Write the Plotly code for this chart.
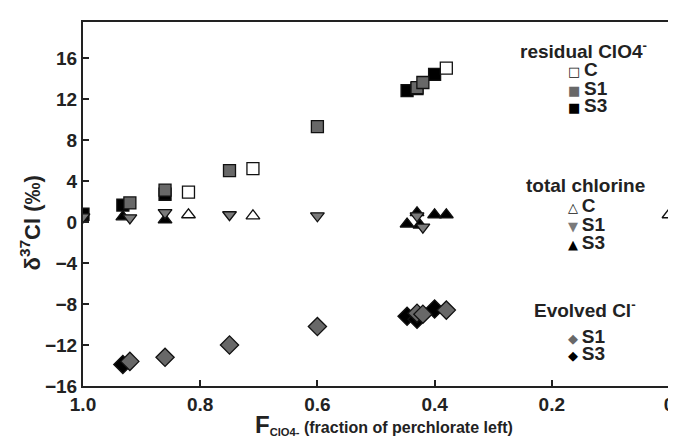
import plotly.graph_objects as go

# ---- data (F = fraction of perchlorate left, d37Cl in permil) ----
res_C_F = [0.82, 0.71, 0.38]
res_C_d = [2.9, 5.2, 15.0]
res_S1_F = [0.92, 0.86, 0.75, 0.60, 0.43, 0.42]
res_S1_d = [1.85, 3.1, 5.0, 9.3, 13.1, 13.6]
res_S3_F = [1.0, 0.932, 0.86, 0.447, 0.43, 0.40]
res_S3_d = [0.75, 1.65, 2.7, 12.8, 13.0, 14.4]

tot_C_F = [0.82, 0.71, 0.0]
tot_C_d = [0.7, 0.6, 0.7]
tot_S1_F = [1.0, 0.92, 0.86, 0.75, 0.60, 0.43, 0.42]
tot_S1_d = [0.5, 0.4, 0.9, 0.7, 0.6, 0.6, -0.5]
tot_S3_F = [0.932, 0.86, 0.447, 0.43, 0.425, 0.40, 0.38]
tot_S3_d = [0.5, 0.2, -0.2, 0.9, -0.3, 0.7, 0.7]

evo_S1_F = [0.92, 0.86, 0.75, 0.60, 0.43, 0.42, 0.38]
evo_S1_d = [-13.6, -13.2, -12.0, -10.2, -8.9, -9.0, -8.6]
evo_S3_F = [0.932, 0.447, 0.43, 0.40]
evo_S3_d = [-13.9, -9.2, -9.5, -8.5]

x_ticks = [1.0, 0.8, 0.6, 0.4, 0.2, 0.0]
x_tick_text = ["1.0", "0.8", "0.6", "0.4", "0.2", "0"]
y_ticks = [-16, -12, -8, -4, 0, 4, 8, 12, 16]

GRAY = "#686868"
TRI_GRAY = "#7a7a7a"
LINE = dict(color="#111", width=1.3)
FONT = "Liberation Sans, Arial, sans-serif"
INK = "#222"

fig = go.Figure()

def add(xs, ys, symbol, color, size):
    fig.add_trace(go.Scatter(
        x=xs, y=ys, mode="markers", showlegend=False, hoverinfo="skip",
        marker=dict(symbol=symbol, color=color, size=size, line=LINE)))

# residual ClO4-
add(res_S3_F, res_S3_d, "square", "#000000", 12)
add(res_S1_F, res_S1_d, "square", GRAY, 12)
add(res_C_F, res_C_d, "square", "#ffffff", 12)
# total chlorine
add(tot_C_F, tot_C_d, "triangle-up", "#ffffff", 12)
add(tot_S3_F, tot_S3_d, "triangle-up", "#000000", 12)
add(tot_S1_F, tot_S1_d, "triangle-down", TRI_GRAY, 12)
# evolved Cl-
add(evo_S3_F, evo_S3_d, "diamond", "#000000", 14)
add(evo_S1_F, evo_S1_d, "diamond", GRAY, 14)

axis_common = dict(
    showline=True, linecolor=INK, linewidth=2, mirror=True,
    ticks="inside", ticklen=6, tickwidth=1.5, tickcolor=INK,
    showgrid=False, zeroline=False,
    tickfont=dict(family=FONT, size=19, color=INK, weight="bold"),
)

fig.update_xaxes(range=[1.0, 0.0], tickvals=x_ticks, ticktext=x_tick_text, **axis_common)
fig.update_yaxes(range=[-16, 19.5], tickvals=y_ticks, **axis_common)

def px_x(p):
    return (p - 75) / 591.0

def px_y(p):
    return (378 - p) / 364.0

ann = []
def text_at(text, xpx, ypx, size, anchor="center", angle=0):
    ann.append(dict(text=text, x=px_x(xpx), y=px_y(ypx), xref="paper", yref="paper",
                    xanchor=anchor, yanchor="middle", showarrow=False, textangle=angle,
                    font=dict(family=FONT, size=size, color=INK)))

# axis titles
text_at("<b>δ<sup>37</sup>Cl (‰)</b>", 22, 215, 22, angle=-90)
text_at("<b><span style='font-size:24px'>F</span><sub>ClO4-</sub> (fraction of perchlorate left)</b>",
        379, 416, 16)

# legend blocks
def entry(glyph, color, label, ypx):
    text_at(f"<span style='font-family:DejaVu Sans;font-size:13px;color:{color}'>{glyph}</span>"
            f"\u2009<b>{label}</b>", 562, ypx, 19, anchor="left")

text_at("<b>residual ClO4<sup>-</sup></b>", 580, 42, 19)
entry("□", "#111", "C", 62)
entry("■", GRAY, "S1", 80)
entry("■", "#000", "S3", 98)

text_at("<b>total chlorine</b>", 582, 178, 19)
entry("△", "#111", "C", 197)
entry("▼", TRI_GRAY, "S1", 216)
entry("▲", "#000", "S3", 234)

text_at("<b>Evolved Cl<sup>-</sup></b>", 581, 301, 19)
entry("◆", GRAY, "S1", 328)
entry("◆", "#000", "S3", 345)

fig.update_layout(
    width=676, height=446,
    margin=dict(l=75, r=10, t=14, b=68),
    plot_bgcolor="white", paper_bgcolor="white",
    annotations=ann,
    font=dict(family=FONT),
)

fig.write_html("out.html")
